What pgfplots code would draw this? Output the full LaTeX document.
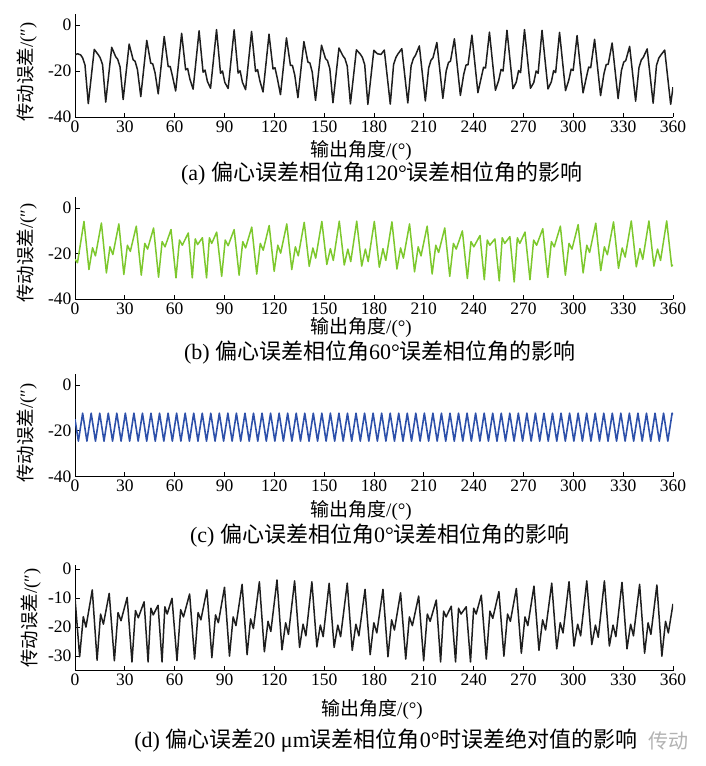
\documentclass[border=0pt]{standalone}
\usepackage{fontspec}
\usepackage{pgfplots}
\pgfplotsset{compat=1.18}
\setmainfont{Liberation Serif}
\newfontfamily\cjk{Noto Sans CJK SC}
\definecolor{ggreen}{RGB}{125,200,45}
\definecolor{bblue}{RGB}{45,80,170}
\definecolor{dblack}{RGB}{30,30,30}
\pgfplotsset{
  panel/.style={
    scale only axis, width=598pt, xmin=0, xmax=360,
    axis x line*=bottom, axis y line*=left,
    axis line style={line width=0.9pt, black},
    tick align=inside, major tick length=4.5pt,
    tick style={line width=0.9pt, black},
    xtick={0,30,...,360},
    xticklabels={0,30,60,90,120,150,180,210,240,270,300,330,360},
    tick label style={font=\fontsize{17.5}{18}\selectfont},
    every axis plot/.append style={no marks, line join=round},
  }
}
\begin{document}
\begin{tikzpicture}
\useasboundingbox (0pt,0pt) rectangle (706pt,-766pt);
% ---------------- (a)
\begin{axis}[panel, at={(75pt,-117pt)}, anchor=south west, height=103.5pt,
  ymin=-40, ymax=5, ytick={-40,-20,0}, yticklabels={-40,-20,0}]
\addplot[dblack, line width=1.5pt] coordinates {
(0,-13)(1.5,-12.5)(3.4,-13.0)(4.6,-14.3)(6.0,-17.3)
(8.0,-34.2)(9.8,-22.4)(11.6,-10.6)(14.0,-12.9)(15.2,-14.3)(16.6,-17.3)
(18.5,-33.5)(20.3,-21.6)(22.1,-9.7)(24.5,-13.8)(25.7,-14.9)(27.1,-18.2)
(29.0,-32.4)(30.8,-20.4)(32.6,-8.3)(35.0,-15.1)(36.2,-15.8)(37.6,-19.4)
(39.6,-31.1)(41.4,-18.9)(43.2,-6.7)(45.6,-16.6)(46.8,-16.9)(48.2,-20.8)
(50.1,-29.9)(51.9,-17.5)(53.7,-5.0)(56.1,-18.1)(57.3,-18.0)(58.7,-22.3)
(60.6,-28.7)(62.4,-16.2)(64.2,-3.6)(66.6,-19.5)(67.8,-18.9)(69.2,-23.6)
(71.1,-27.9)(72.9,-15.2)(74.7,-2.5)(77.1,-20.5)(78.3,-19.6)(79.7,-24.5)
(81.6,-27.5)(83.4,-14.8)(85.2,-2.0)(87.6,-21.0)(88.8,-20.0)(90.2,-25.0)
(92.2,-27.6)(94.0,-14.9)(95.8,-2.1)(98.2,-20.9)(99.4,-19.9)(100.8,-24.9)
(102.7,-28.1)(104.5,-15.5)(106.3,-2.8)(108.7,-20.2)(109.9,-19.4)(111.3,-24.3)
(113.2,-29.1)(115.0,-16.6)(116.8,-4.0)(119.2,-19.1)(120.4,-18.6)(121.8,-23.2)
(123.7,-30.3)(125.5,-18.0)(127.3,-5.6)(129.7,-17.6)(130.9,-17.6)(132.3,-21.8)
(134.2,-31.6)(136.0,-19.4)(137.8,-7.2)(140.2,-16.1)(141.4,-16.5)(142.8,-20.4)
(144.8,-32.8)(146.6,-20.8)(148.4,-8.8)(150.8,-14.6)(152.0,-15.5)(153.4,-19.0)
(155.3,-33.8)(157.1,-21.9)(158.9,-10.0)(161.3,-13.4)(162.5,-14.6)(163.9,-17.9)
(165.8,-34.3)(167.6,-22.6)(169.4,-10.8)(171.8,-12.7)(173.0,-14.1)(174.4,-17.2)
(176.3,-34.5)(178.1,-22.8)(179.9,-11.0)(182.0,-12.5)(184.2,-12.8)
(186.2,-10.9)(188.0,-22.6)(189.8,-34.4)(191.8,-17.1)(193.2,-14.1)(194.4,-12.6)
(196.75,-10.3)(198.55,-22.1)(200.35,-33.9)(202.35,-17.7)(203.75,-14.5)(204.95,-13.2)
(207.3,-9.1)(209.1,-21.1)(210.9,-33.0)(212.9,-18.7)(214.3,-15.3)(215.5,-14.3)
(217.85,-7.6)(219.65,-19.8)(221.45,-31.9)(223.45,-20.0)(224.85,-16.3)(226.05,-15.7)
(228.4,-6.0)(230.2,-18.3)(232.0,-30.6)(234.0,-21.5)(235.4,-17.4)(236.6,-17.3)
(238.95,-4.4)(240.75,-16.9)(242.55,-29.4)(244.55,-22.9)(245.95,-18.4)(247.15,-18.7)
(249.5,-3.1)(251.3,-15.8)(253.1,-28.4)(255.1,-24.0)(256.5,-19.3)(257.7,-20.0)
(260.05,-2.3)(261.85,-15.0)(263.65,-27.7)(265.65,-24.8)(267.05,-19.8)(268.25,-20.7)
(270.6,-2.0)(272.4,-14.8)(274.2,-27.5)(276.2,-25.0)(277.6,-20.0)(278.8,-21.0)
(281.15,-2.3)(282.95,-15.1)(284.75,-27.8)(286.75,-24.7)(288.15,-19.8)(289.35,-20.7)
(291.7,-3.2)(293.5,-15.9)(295.3,-28.5)(297.3,-23.9)(298.7,-19.2)(299.9,-19.8)
(302.25,-4.6)(304.05,-17.1)(305.85,-29.5)(307.85,-22.7)(309.25,-18.3)(310.45,-18.6)
(312.8,-6.2)(314.6,-18.5)(316.4,-30.7)(318.4,-21.3)(319.8,-17.2)(321.0,-17.1)
(323.35,-7.8)(325.15,-19.9)(326.95,-32.0)(328.95,-19.8)(330.35,-16.1)(331.55,-15.5)
(333.9,-9.3)(335.7,-21.2)(337.5,-33.1)(339.5,-18.6)(340.9,-15.2)(342.1,-14.1)
(344.45,-10.4)(346.25,-22.2)(348.05,-34.0)(350.05,-17.6)(351.45,-14.4)(352.65,-13.1)
(355.0,-10.9)(356.8,-22.7)(358.6,-34.5)(360,-27)
};
\end{axis}
% ---------------- (b)
\begin{axis}[panel, at={(75pt,-299pt)}, anchor=south west, height=102.1pt,
  ymin=-40, ymax=5, ytick={-40,-20,0}, yticklabels={-40,-20,0}]
\addplot[ggreen, line width=1.5pt] coordinates {
(0,-22.5)(1.5,-24.0)
(5.4,-5.8)(8.4,-27.0)(10.55,-17.4)(12.3,-21.0)
(15.9,-6.5)(18.9,-28.5)(21.05,-17.0)(22.8,-20.4)
(26.4,-6.9)(29.4,-29.2)(31.55,-16.3)(33.3,-19.0)
(36.9,-7.9)(39.9,-29.5)(42.0,-15.5)(43.7,-18.0)
(47.3,-8.7)(50.3,-30.4)(52.45,-14.7)(54.2,-17.0)
(57.8,-9.4)(60.8,-30.7)(62.9,-14.0)(64.6,-16.3)
(68.2,-10.9)(70.6,-30.7)(72.4,-13.5)(73.8,-16.0)
(76.7,-13.0)(79.2,-30.7)(80.9,-13.0)(82.3,-15.5)
(85.3,-10.5)(88.3,-30.0)(90.45,-14.0)(92.2,-16.5)
(95.8,-9.4)(98.8,-29.5)(101.0,-14.7)(102.7,-17.5)
(106.4,-8.3)(109.4,-29.0)(111.55,-15.5)(113.3,-18.5)
(116.9,-7.6)(119.9,-27.8)(122.1,-16.3)(123.8,-19.8)
(127.5,-6.9)(130.5,-27.0)(132.65,-17.0)(134.4,-21.0)
(138.0,-6.2)(141.0,-25.6)(143.2,-17.5)(144.9,-22.0)
(148.6,-5.8)(151.6,-24.8)(153.75,-17.8)(155.5,-23.0)
(159.1,-5.7)(162.1,-25.0)(164.25,-18.0)(166.0,-23.5)
(169.6,-5.7)(172.6,-25.5)(174.8,-18.0)(176.5,-23.5)
(180.2,-5.8)(183.2,-26.0)(185.4,-17.8)(187.1,-23.0)
(190.8,-6.0)(193.8,-26.8)(196.0,-17.5)(197.7,-22.0)
(201.4,-6.9)(204.4,-28.0)(206.6,-17.0)(208.3,-21.0)
(212.0,-7.9)(215.0,-29.0)(217.2,-16.3)(218.9,-19.5)
(222.6,-8.7)(225.6,-30.0)(227.8,-15.5)(229.5,-18.0)
(233.2,-10.0)(236.2,-31.0)(238.4,-14.7)(240.1,-17.0)
(243.8,-12.0)(246.4,-31.5)(248.2,-14.0)(249.7,-16.3)
(252.8,-13.5)(255.4,-32.0)(257.2,-13.0)(258.7,-15.5)
(261.8,-12.5)(264.4,-32.5)(266.3,-13.0)(267.8,-15.5)
(270.9,-10.5)(273.9,-31.5)(276.1,-14.0)(277.9,-16.3)
(281.6,-9.0)(284.6,-30.5)(286.8,-14.7)(288.5,-17.0)
(292.2,-7.9)(295.2,-29.5)(297.4,-15.5)(299.2,-18.0)
(302.9,-7.2)(305.9,-28.5)(308.1,-16.3)(309.8,-19.5)
(313.5,-6.6)(316.5,-27.5)(318.7,-17.0)(320.5,-20.5)
(324.2,-6.0)(327.2,-26.5)(329.4,-17.5)(331.2,-21.5)
(334.9,-5.6)(337.9,-25.8)(340.1,-17.8)(341.8,-22.5)
(345.5,-5.6)(348.5,-25.5)(350.7,-18.0)(352.5,-23.0)
(356.2,-5.6)(359.2,-25.5)(360,-25.0)
};
\end{axis}
% ---------------- (c)
\begin{axis}[panel, at={(75pt,-476.7pt)}, anchor=south west, height=103.2pt,
  ymin=-40, ymax=5, ytick={-40,-20,0}, yticklabels={-40,-20,0}]
\addplot[bblue, line width=1.6pt] coordinates {
(0,-14.9)
(2.03,-24.5)(4.60,-12.3)(7.17,-24.5)(9.74,-12.3)(12.32,-24.5)(14.89,-12.3)(17.46,-24.5)(20.03,-12.3)
(22.60,-24.5)(25.17,-12.3)(27.74,-24.5)(30.31,-12.3)(32.89,-24.5)(35.46,-12.3)(38.03,-24.5)(40.60,-12.3)
(43.17,-24.5)(45.74,-12.3)(48.32,-24.5)(50.89,-12.3)(53.46,-24.5)(56.03,-12.3)(58.60,-24.5)(61.17,-12.3)
(63.74,-24.5)(66.31,-12.3)(68.89,-24.5)(71.46,-12.3)(74.03,-24.5)(76.60,-12.3)(79.17,-24.5)(81.74,-12.3)
(84.32,-24.5)(86.89,-12.3)(89.46,-24.5)(92.03,-12.3)(94.60,-24.5)(97.17,-12.3)(99.75,-24.5)(102.32,-12.3)
(104.89,-24.5)(107.46,-12.3)(110.03,-24.5)(112.60,-12.3)(115.17,-24.5)(117.74,-12.3)(120.32,-24.5)(122.89,-12.3)
(125.46,-24.5)(128.03,-12.3)(130.60,-24.5)(133.17,-12.3)(135.75,-24.5)(138.32,-12.3)(140.89,-24.5)(143.46,-12.3)
(146.03,-24.5)(148.60,-12.3)(151.17,-24.5)(153.74,-12.3)(156.32,-24.5)(158.89,-12.3)(161.46,-24.5)(164.03,-12.3)
(166.60,-24.5)(169.17,-12.3)(171.75,-24.5)(174.32,-12.3)(176.89,-24.5)(179.46,-12.3)(182.03,-24.5)(184.60,-12.3)
(187.17,-24.5)(189.74,-12.3)(192.32,-24.5)(194.89,-12.3)(197.46,-24.5)(200.03,-12.3)(202.60,-24.5)(205.17,-12.3)
(207.75,-24.5)(210.32,-12.3)(212.89,-24.5)(215.46,-12.3)(218.03,-24.5)(220.60,-12.3)(223.18,-24.5)(225.75,-12.3)
(228.32,-24.5)(230.89,-12.3)(233.46,-24.5)(236.03,-12.3)(238.60,-24.5)(241.17,-12.3)(243.75,-24.5)(246.32,-12.3)
(248.89,-24.5)(251.46,-12.3)(254.03,-24.5)(256.60,-12.3)(259.18,-24.5)(261.75,-12.3)(264.32,-24.5)(266.89,-12.3)
(269.46,-24.5)(272.03,-12.3)(274.60,-24.5)(277.17,-12.3)(279.75,-24.5)(282.32,-12.3)(284.89,-24.5)(287.46,-12.3)
(290.03,-24.5)(292.60,-12.3)(295.18,-24.5)(297.75,-12.3)(300.32,-24.5)(302.89,-12.3)(305.46,-24.5)(308.03,-12.3)
(310.60,-24.5)(313.17,-12.3)(315.75,-24.5)(318.32,-12.3)(320.89,-24.5)(323.46,-12.3)(326.03,-24.5)(328.60,-12.3)
(331.18,-24.5)(333.75,-12.3)(336.32,-24.5)(338.89,-12.3)(341.46,-24.5)(344.03,-12.3)(346.61,-24.5)(349.18,-12.3)
(351.75,-24.5)(354.32,-12.3)(356.89,-24.5)(359.46,-12.3)(360,-12.9)
};
\end{axis}
% ---------------- (d)
\begin{axis}[panel, at={(75pt,-670.7pt)}, anchor=south west, height=106.1pt,
  ymin=-35, ymax=1.5, ytick={-30,-20,-10,0}, yticklabels={-30,-20,-10,0}]
\addplot[dblack, line width=1.5pt] coordinates {
(0,-10)(2.8,-30.2)(5.0,-16.4)(6.6,-20.0)
(10.4,-7.2)(13.3,-31.4)(15.4,-15.5)(17.1,-19.0)
(20.6,-8.4)(23.7,-31.6)(25.9,-15.0)(27.7,-17.8)
(31.4,-9.8)(34.3,-32.0)(36.4,-14.3)(38.1,-16.8)
(41.6,-11.3)(44.0,-32.0)(45.7,-13.5)(47.1,-15.8)
(50.0,-12.5)(52.4,-32.0)(54.1,-13.0)(55.5,-15.5)
(58.4,-10.1)(61.4,-31.5)(63.6,-14.0)(65.3,-16.5)
(69.0,-8.6)(72.0,-31.0)(74.1,-15.0)(75.8,-17.5)
(79.4,-7.2)(82.4,-30.5)(84.6,-15.8)(86.3,-18.5)
(90.0,-6.3)(93.0,-30.0)(95.2,-16.5)(96.9,-19.5)
(100.6,-5.3)(103.6,-29.5)(105.7,-17.2)(107.4,-20.5)
(111.0,-4.4)(114.0,-28.5)(116.2,-18.0)(117.9,-21.5)
(121.6,-3.8)(124.6,-27.8)(126.8,-18.5)(128.5,-22.5)
(132.2,-4.1)(135.2,-27.0)(137.3,-19.0)(139.0,-23.0)
(142.6,-4.4)(145.6,-26.8)(147.7,-19.3)(149.4,-23.3)
(153.0,-4.9)(156.0,-27.0)(158.2,-19.3)(159.9,-23.3)
(163.9,-4.9)(166.9,-28.0)(169.1,-19.0)(170.9,-23.0)
(174.6,-7.0)(177.7,-29.5)(179.9,-18.5)(181.7,-22.0)
(185.4,-7.0)(188.4,-30.2)(190.6,-17.5)(192.3,-21.0)
(196.0,-8.2)(199.1,-31.0)(201.3,-16.5)(203.1,-19.5)
(206.9,-9.3)(209.9,-31.6)(212.1,-15.5)(213.8,-18.0)
(217.5,-10.7)(220.1,-32.0)(221.9,-14.5)(223.4,-16.5)
(226.5,-12.8)(229.1,-32.0)(230.9,-13.5)(232.4,-15.5)
(235.5,-13.0)(238.1,-32.0)(240.0,-13.5)(241.5,-15.5)
(244.6,-9.0)(247.6,-31.0)(249.8,-14.5)(251.5,-17.0)
(255.2,-7.8)(258.2,-30.0)(260.4,-15.5)(262.1,-18.0)
(265.7,-6.7)(268.7,-29.0)(270.9,-16.5)(272.6,-19.5)
(276.3,-5.9)(279.3,-28.0)(281.5,-17.5)(283.3,-21.0)
(287.0,-4.9)(290.0,-27.5)(292.1,-18.5)(293.8,-22.0)
(297.4,-4.4)(300.4,-26.5)(302.6,-19.0)(304.4,-23.0)
(308.1,-4.1)(311.1,-26.0)(313.3,-19.3)(315.0,-23.5)
(318.7,-4.1)(321.7,-26.5)(323.9,-19.3)(325.6,-23.3)
(329.3,-4.6)(332.3,-27.5)(334.5,-19.0)(336.2,-23.0)
(339.9,-5.3)(342.9,-29.0)(345.0,-18.5)(346.7,-22.5)
(350.3,-5.5)(353.3,-30.0)(355.5,-18.0)(357.2,-22.0)
(360,-12)
};
\end{axis}
% ---------------- labels
\tikzset{ylab/.style={rotate=90, font=\fontsize{18.5}{19}\selectfont},
         xlab/.style={font=\fontsize{19}{19}\selectfont},
         capt/.style={font=\fontsize{22}{22}\selectfont}}
\node[ylab] at (27pt,-72pt) {{\cjk 传动误差}/(″)};
\node[ylab] at (27pt,-253pt) {{\cjk 传动误差}/(″)};
\node[ylab] at (27pt,-433pt) {{\cjk 传动误差}/(″)};
\node[ylab] at (31pt,-618pt) {{\cjk 传动误差}/(″)};
\node[xlab] at (361pt,-150pt) {{\cjk 输出角度}/(°)};
\node[xlab] at (361pt,-327.5pt) {{\cjk 输出角度}/(°)};
\node[xlab] at (361pt,-510pt) {{\cjk 输出角度}/(°)};
\node[xlab] at (372pt,-709pt) {{\cjk 输出角度}/(°)};
\node[capt] at (382pt,-174pt) {(a) {\cjk 偏心误差相位角}120°{\cjk 误差相位角的影响}};
\node[capt] at (380pt,-353pt) {(b) {\cjk 偏心误差相位角}60°{\cjk 误差相位角的影响}};
\node[capt] at (380pt,-535.5pt) {(c) {\cjk 偏心误差相位角}0°{\cjk 误差相位角的影响}};
\node[capt] at (386pt,-740.5pt) {(d) {\cjk 偏心误差}20 μm{\cjk 误差相位角}0°{\cjk 时误差绝对值的影响}};
\node[font=\fontsize{20}{20}\selectfont, text=black!30, anchor=west] at (645pt,-740.5pt) {\cjk 传动};
\end{tikzpicture}
\end{document}
